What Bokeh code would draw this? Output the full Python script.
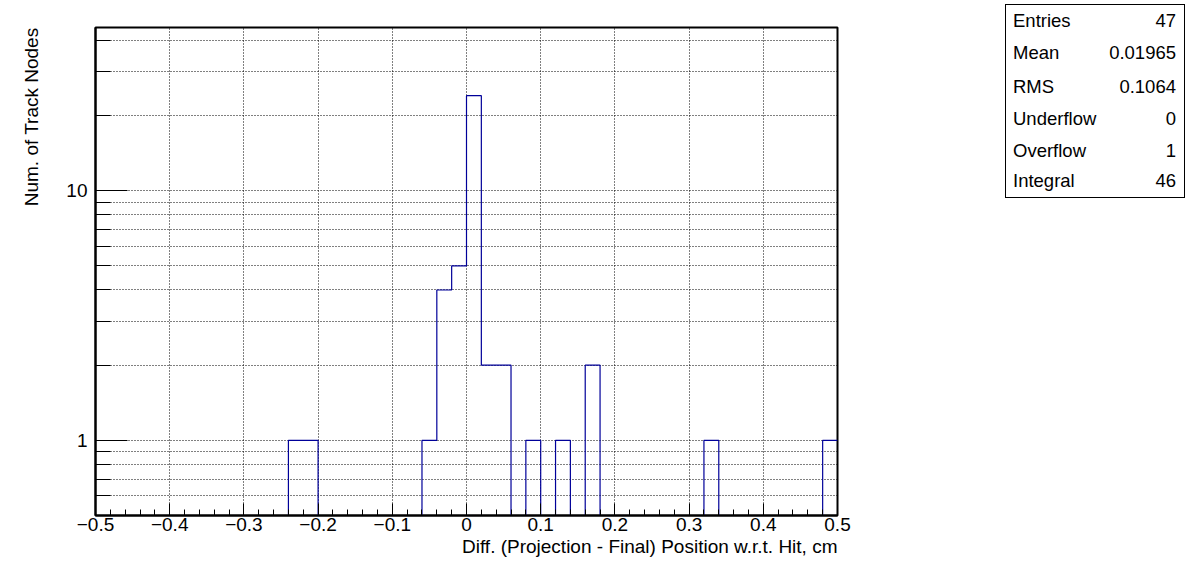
from bokeh.plotting import figure
from bokeh.layouts import row
from bokeh.models import FixedTicker, Range1d, Title, Div
from bokeh.embed import file_html
from bokeh.resources import INLINE

# ---------------- data ----------------
x_min, x_max, n_bins = -0.5, 0.5, 50
# bin contents (50 bins of width 0.02 from -0.5 to 0.5)
counts = [0, 0, 0, 0, 0, 0, 0, 0, 0, 0,
          0, 0, 0, 1, 1, 0, 0, 0, 0, 0,
          0, 0, 1, 4, 5, 24, 2, 2, 0, 1,
          0, 1, 0, 2, 0, 0, 0, 0, 0, 0,
          0, 1, 0, 0, 0, 0, 0, 0, 0, 1]
x_ticks = [-0.5, -0.4, -0.3, -0.2, -0.1, 0.0, 0.1, 0.2, 0.3, 0.4, 0.5]
x_tick_labels = ["\u22120.5", "\u22120.4", "\u22120.3", "\u22120.2", "\u22120.1",
                 "0", "0.1", "0.2", "0.3", "0.4", "0.5"]
y_ticks = [1, 10]
y_tick_labels = ["1", "10"]
y_minor = [0.6, 0.7, 0.8, 0.9, 2, 3, 4, 5, 6, 7, 8, 9, 20, 30, 40]
stat_names = ["Entries", "Mean", "RMS", "Underflow", "Overflow", "Integral"]
stat_values = ["47", "0.01965", "0.1064", "0", "1", "46"]
x_title = "Diff. (Projection - Final) Position w.r.t. Hit, cm"
y_title = "Num. of Track Nodes"

y_lo, y_hi = 0.5, 45.0

# ---------------- main figure ----------------
FONT = "Liberation Sans"
W, H = 1000, 566
p = figure(width=W, height=H, y_axis_type="log",
           x_range=Range1d(x_min, x_max), y_range=Range1d(y_lo, y_hi),
           output_backend="svg", toolbar_location=None,
           min_border_left=95, min_border_right=W - 837,
           min_border_top=27, min_border_bottom=H - 515)
p.outline_line_color = "black"
p.outline_line_width = 2
p.background_fill_color = "white"
p.border_fill_color = "white"

# histogram outline
width = (x_max - x_min) / n_bins
xs, ys = [], []
for i, c in enumerate(counts):
    lo = x_min + i * width
    hi = lo + width
    v = c if c > 0 else y_lo
    xs += [lo, hi]
    ys += [v, v]
p.line(xs, ys, line_color="#000099", line_width=1.2)

# x axis
minor_x = [round(x_min + i * 0.02, 2) for i in range(n_bins + 1)]
p.xaxis.ticker = FixedTicker(ticks=x_ticks, minor_ticks=minor_x)
p.xaxis.major_label_overrides = {t: l for t, l in zip(x_ticks, x_tick_labels)}
p.xaxis.major_tick_in = 12
p.xaxis.major_tick_out = 0
p.xaxis.minor_tick_in = 6
p.xaxis.minor_tick_out = 0
p.xaxis.axis_line_width = 2
p.xaxis.major_label_text_font = FONT
p.xaxis.major_label_text_font_size = "19px"
p.xaxis.major_label_text_color = "black"
p.xaxis.major_label_standoff = 2

# y axis
p.yaxis.ticker = FixedTicker(ticks=y_ticks, minor_ticks=y_minor)
p.yaxis.major_label_overrides = {t: l for t, l in zip(y_ticks, y_tick_labels)}
p.yaxis.major_tick_in = 32
p.yaxis.major_tick_out = 0
p.yaxis.minor_tick_in = 15
p.yaxis.minor_tick_out = 0
p.yaxis.axis_line_width = 2
p.yaxis.major_label_text_font = FONT
p.yaxis.major_label_text_font_size = "19px"
p.yaxis.major_label_text_color = "black"
p.yaxis.major_label_standoff = 8

# grids
p.xgrid.ticker = FixedTicker(ticks=x_ticks)
p.ygrid.ticker = FixedTicker(ticks=sorted(y_ticks + y_minor))
for g in (p.xgrid, p.ygrid):
    g.grid_line_color = "black"
    g.grid_line_dash = "1 2"
    g.grid_line_width = 1
    g.grid_line_alpha = 1.0

# axis titles (side-panel titles, aligned to the frame ends)
p.add_layout(Title(text=x_title, align="right", vertical_align="top",
                   standoff=4, offset=0,
                   text_font=FONT, text_font_size="19px",
                   text_font_style="normal", text_color="black"), "below")
p.add_layout(Title(text=y_title, align="right", vertical_align="top",
                   standoff=40, offset=0,
                   text_font=FONT, text_font_size="19px",
                   text_font_style="normal", text_color="black"), "left")

# ---------------- statistics box ----------------
row_centers = [21, 53, 87, 119, 151, 181]   # page y of each row's centre
rows_html = ""
for name, val, yc in zip(stat_names, stat_values, row_centers):
    top = yc - 10 - 5
    rows_html += (f'<div style="position:absolute;left:7px;top:{top}px;'
                  f'line-height:20px;white-space:nowrap">{name}</div>'
                  f'<div style="position:absolute;right:8px;top:{top}px;'
                  f'line-height:20px;white-space:nowrap">{val}</div>')
box_html = ('<div style="position:absolute;left:5px;top:4px;width:180px;height:194px;'
            'box-sizing:border-box;border:1px solid black;background:white;'
            f'font-family:\'{FONT}\';font-size:18.5px;color:black">'
            + rows_html + '</div>')
stats = Div(text=box_html, width=190, height=200,
            styles={"position": "relative", "margin": "0", "padding": "0"})

layout = row(p, stats)
open("out.html", "w").write(file_html(layout, INLINE))
